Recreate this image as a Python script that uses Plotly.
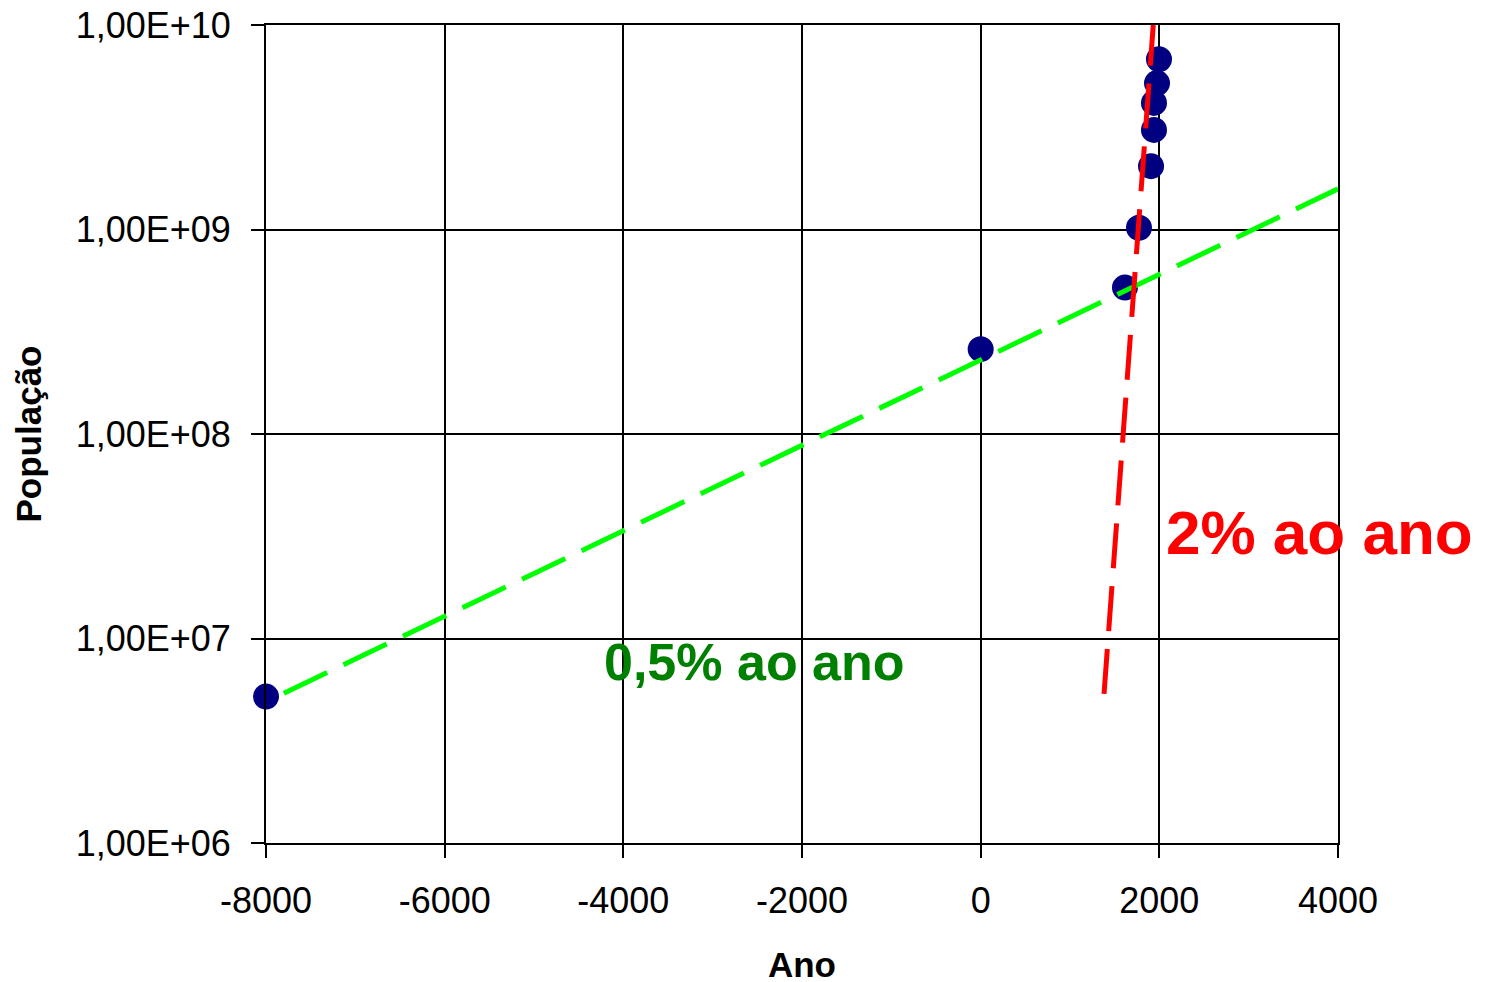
import plotly.graph_objects as go

# Data
anos = [-8000, 0, 1615, 1772, 1907, 1940, 1940, 1974, 1996]
populacao = [5.2e6, 2.6e8, 5.2e8, 1.02e9, 2.04e9, 3.07e9, 4.16e9, 5.2e9, 6.8e9]

# Trend lines (endpoints)
verde_x = [-7800, 4000]
verde_y = [5.4e6, 1.58e9]
vermelho_x = [1381, 1932]
vermelho_y = [5.36e6, 1.0e10]

x_ticks = [-8000, -6000, -4000, -2000, 0, 2000, 4000]
y_ticks = [1e6, 1e7, 1e8, 1e9, 1e10]
y_ticktext = ["1,00E+06", "1,00E+07", "1,00E+08", "1,00E+09", "1,00E+10"]

FONT = "Arial, Liberation Sans, sans-serif"

fig = go.Figure()
fig.add_trace(go.Scatter(
    x=anos, y=populacao, mode="markers",
    marker=dict(size=26, color="#000080", line=dict(width=0)),
    showlegend=False, cliponaxis=False))
fig.add_trace(go.Scatter(
    x=verde_x, y=verde_y, mode="lines",
    line=dict(color="#00FF00", width=5, dash="48px,18px"),
    showlegend=False))
fig.add_trace(go.Scatter(
    x=vermelho_x, y=vermelho_y, mode="lines",
    line=dict(color="#FF0000", width=5, dash="45px,18px"),
    showlegend=False))

fig.update_layout(
    width=1485, height=982,
    margin=dict(l=258, r=155, t=17, b=147, autoexpand=False),
    paper_bgcolor="white", plot_bgcolor="white",
    font=dict(family=FONT, color="black", size=36),
    xaxis=dict(
        range=[-8000, 4000], tickvals=x_ticks,
        ticktext=[str(v) for v in x_ticks],
        showgrid=True, gridcolor="black", gridwidth=2,
        showline=True, linecolor="black", linewidth=2, mirror=True,
        ticks="outside", ticklen=13, tickwidth=2, tickcolor="black",
        ticklabelstandoff=12, ticklabeloverflow="allow",
        zeroline=False,
        tickfont=dict(size=36, family=FONT),
        title=dict(text="<b>Ano</b>", font=dict(size=35, family=FONT), standoff=32),
    ),
    yaxis=dict(
        type="log", range=[6, 10], tickvals=y_ticks, ticktext=y_ticktext,
        showgrid=True, gridcolor="black", gridwidth=2,
        showline=True, linecolor="black", linewidth=2, mirror=True,
        ticks="outside", ticklen=13, tickwidth=2, tickcolor="black",
        ticklabelstandoff=13, ticklabeloverflow="allow",
        zeroline=False,
        tickfont=dict(size=36, family=FONT),
        title=dict(text="<b>População</b>", font=dict(size=35, family=FONT), standoff=23),
    ),
    annotations=[
        dict(text="<b>2% ao ano</b>", xref="paper", yref="paper",
             x=0.983, y=0.379, xanchor="center", yanchor="middle", showarrow=False,
             font=dict(size=62, color="#FF0000", family=FONT)),
        dict(text="<b>0,5% ao ano</b>", xref="paper", yref="paper",
             x=0.456, y=0.221, xanchor="center", yanchor="middle", showarrow=False,
             font=dict(size=52, color="#008000", family=FONT)),
    ],
)

fig.write_html("out.html")
